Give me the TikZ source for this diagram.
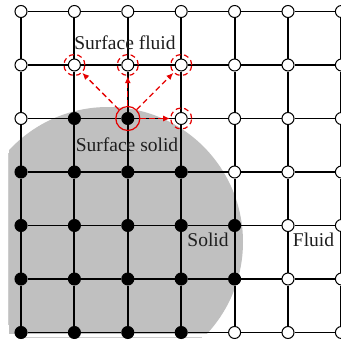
\documentclass[tikz,border=0pt]{standalone}
\usepackage{fontspec}
\setmainfont{Liberation Serif}
\usetikzlibrary{arrows.meta}
\definecolor{solidgray}{RGB}{192,192,192}
\definecolor{framegray}{RGB}{205,205,205}
\definecolor{lbl}{RGB}{30,30,30}
\tikzset{
  fnode/.style={circle,draw=black,fill=white,line width=1pt,minimum size=12pt,inner sep=0pt},
  snode/.style={circle,draw=black,fill=black,line width=1pt,minimum size=12pt,inner sep=0pt},
  gridline/.style={line width=1.9pt,black},
  srcring/.style={circle,draw=red!90!black,line width=1.2pt,minimum size=24pt,inner sep=0pt},
  tgtring/.style={circle,draw=red!90!black,line width=1.2pt,dash pattern=on 5pt off 3.5pt,minimum size=21pt,inner sep=0pt},
  flowarrow/.style={red!90!black,line width=1.3pt,dash pattern=on 5.5pt off 3.5pt,-{Latex[length=7pt,width=6pt]}},
  lab/.style={font=\fontsize{19.5}{22}\selectfont,text=lbl,inner sep=0pt,anchor=base}
}
\begin{document}
\begin{tikzpicture}[x=1pt,y=-1pt]
\useasboundingbox (0,0) rectangle (341,340);
% solid region
\begin{scope}
  \clip (9,0) rectangle (341,333);
  \fill[solidgray] (108,242) circle (135);
\end{scope}
% faint frame lines
\draw[framegray,line width=0.8pt] (8.5,153) -- (8.5,325);
\draw[framegray,line width=0.8pt] (17,337.5) -- (202,337.5);
% lattice nodes
\foreach \i in {0,...,6}{
  \foreach \j in {0,...,6}{
    \pgfmathsetmacro{\px}{21+53.4*\i}
    \pgfmathsetmacro{\py}{11.5+53.5*\j}
    \def\st{fnode}
    \ifnum\j=2 \ifnum\i>0 \ifnum\i<3 \def\st{snode}\fi\fi\fi
    \ifnum\j=3 \ifnum\i<4 \def\st{snode}\fi\fi
    \ifnum\j=4 \ifnum\i<5 \def\st{snode}\fi\fi
    \ifnum\j=5 \ifnum\i<5 \def\st{snode}\fi\fi
    \ifnum\j=6 \ifnum\i<4 \def\st{snode}\fi\fi
    \node[\st] (n-\i-\j) at (\px,\py) {};
  }
}
% lattice links
\foreach \i [count=\k] in {0,...,5}{
  \foreach \j in {0,...,6}{
    \draw[gridline] (n-\i-\j) -- (n-\k-\j);
    \draw[gridline] (n-\j-\i) -- (n-\j-\k);
  }
}
% rings
\node[srcring] (src) at (n-2-2) {};
\node[tgtring] (t1) at (n-1-1) {};
\node[tgtring] (t2) at (n-2-1) {};
\node[tgtring] (t3) at (n-3-1) {};
\node[tgtring] (t4) at (n-3-2) {};
\draw[flowarrow] (src) -- (t1);
\draw[flowarrow] (src) -- (t2);
\draw[flowarrow] (src) -- (t3);
\draw[flowarrow] (src) -- (t4);
% labels
\node[lab] (lsf) at (125,49) {Surface fluid};
\node[lab] (lss) at (127,151) {Surface solid};
\node[lab] (ls) at (208,246) {Solid};
\node[lab] (lf) at (313.5,246) {Fluid};
\end{tikzpicture}
\end{document}
